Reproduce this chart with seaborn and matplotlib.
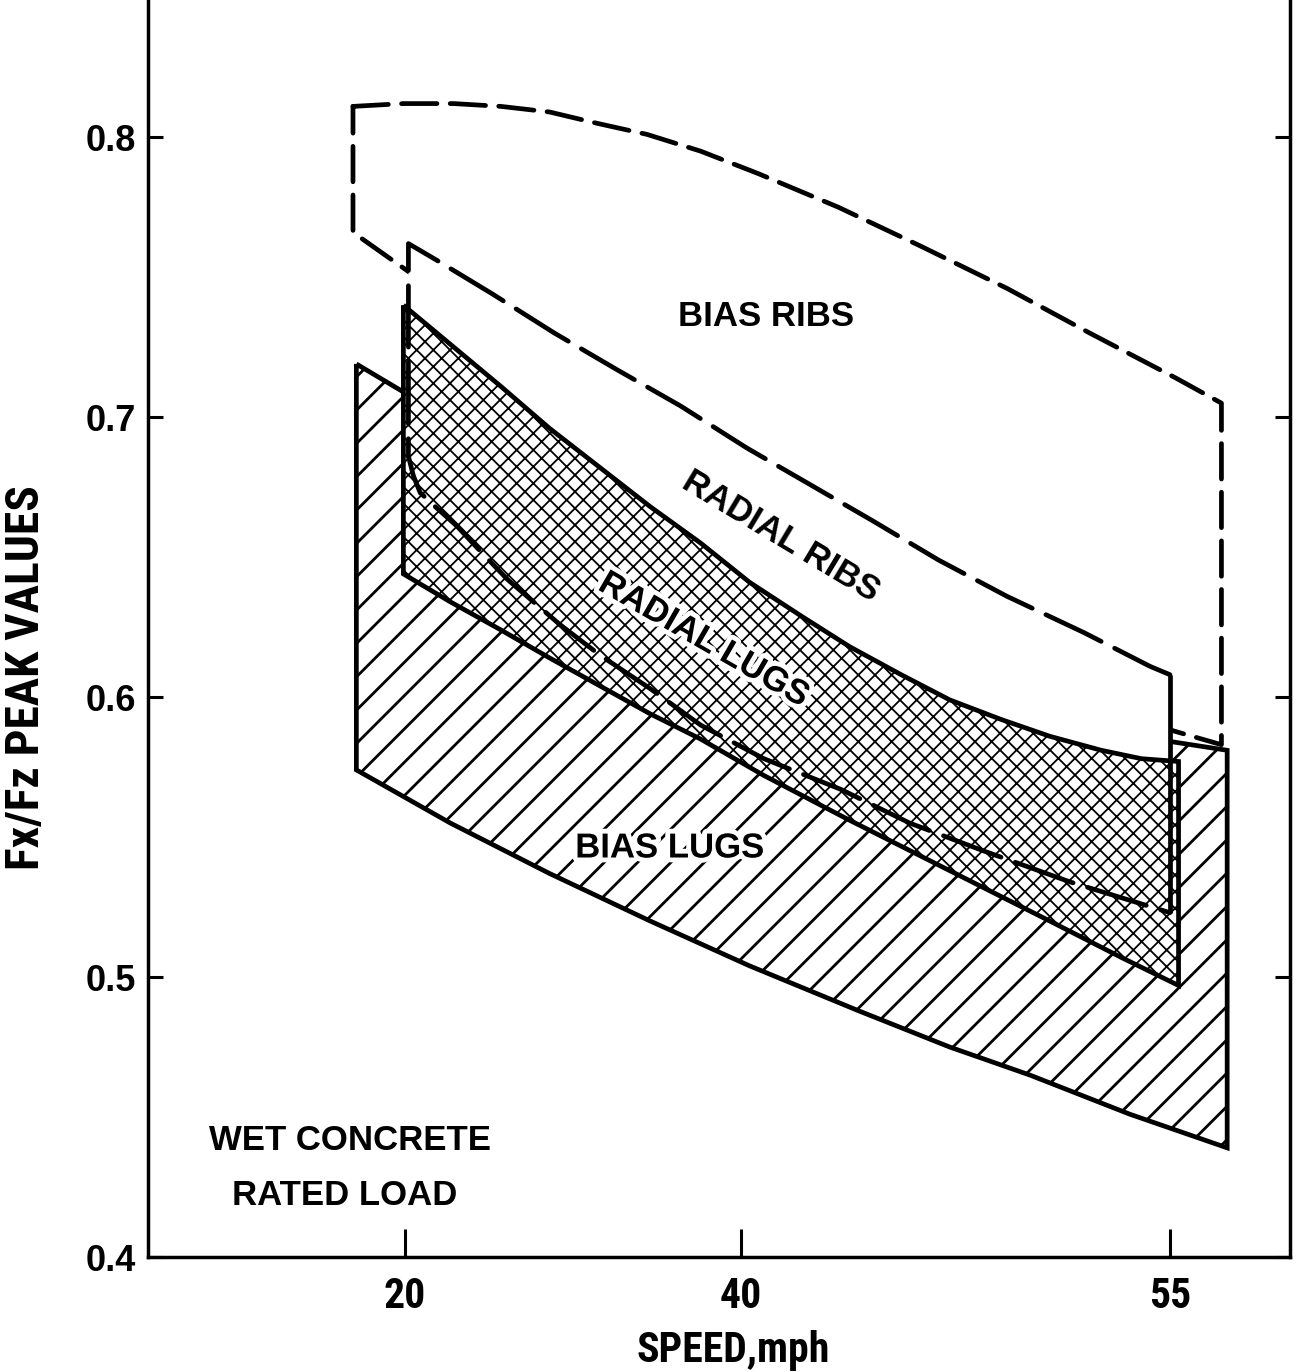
import os
import numpy as np
import matplotlib
matplotlib.use("Agg")
import matplotlib.pyplot as plt
import matplotlib.patheffects as pe
from matplotlib import font_manager as fm
import seaborn as sns

# ---------------------------------------------------------------
# Peak Fx/Fz envelopes versus speed (mph), wet concrete, rated load
# ---------------------------------------------------------------

# Bias ribs envelope (dashed outline)
bias_ribs_top_speed = [16.9, 19.9, 22.9, 25.7, 28.6, 31.4, 34.4, 37.6, 40.6,
                       43.4, 46.3, 49.3, 52.2, 55.2, 56.8]
bias_ribs_top = [0.811, 0.812, 0.812, 0.811, 0.809, 0.805, 0.801, 0.795, 0.787,
                 0.775, 0.761, 0.746, 0.730, 0.714, 0.705]
bias_ribs_bot_speed = [16.9, 20.2, 55.1, 56.8]
bias_ribs_bot = [0.766, 0.752, 0.588, 0.583]

# Radial ribs envelope (long dashes, solid right edge)
radial_ribs_top_speed = [20.2, 21.9, 25.2, 28.9, 32.6, 36.4, 40.2, 42.4, 44.6,
                         46.9, 49.3, 52.0, 54.3, 55.0]
radial_ribs_top = [0.762, 0.756, 0.744, 0.730, 0.717, 0.704, 0.689, 0.676, 0.663,
                   0.649, 0.636, 0.623, 0.611, 0.608]
radial_ribs_bot_speed = [20.2, 20.5, 20.9, 21.8, 23.1, 24.5, 26.1, 29.2, 31.6,
                         34.6, 37.6, 40.8, 43.5, 45.9, 48.5, 51.5, 55.0]
radial_ribs_bot = [0.686, 0.679, 0.673, 0.668, 0.661, 0.652, 0.642, 0.626, 0.615,
                   0.603, 0.590, 0.578, 0.567, 0.555, 0.545, 0.534, 0.523]

# Radial lugs envelope (cross-hatched)
radial_lugs_top_speed = [19.9, 22.7, 25.7, 28.6, 31.6, 34.6, 37.6, 40.3, 42.1,
                         43.8, 45.6, 47.3, 49.1, 50.8, 52.6, 54.0, 55.3]
radial_lugs_top = [0.740, 0.726, 0.711, 0.696, 0.682, 0.668, 0.655, 0.641, 0.629,
                   0.618, 0.608, 0.599, 0.592, 0.586, 0.581, 0.578, 0.577]
radial_lugs_bot_speed = [19.9, 22.7, 25.7, 28.6, 31.6, 34.6, 37.6, 40.8, 43.8,
                         47.3, 50.8, 53.3, 55.3]
radial_lugs_bot = [0.644, 0.634, 0.624, 0.614, 0.604, 0.594, 0.585, 0.572, 0.556,
                   0.538, 0.520, 0.507, 0.497]

# Bias lugs envelope (single hatch)
bias_lugs_top_speed = [17.1, 19.9, 55.1, 57.0]
bias_lugs_top = [0.719, 0.709, 0.584, 0.581]
bias_lugs_bot_speed = [17.1, 22.7, 28.6, 34.6, 40.3, 44.1, 47.3, 50.1, 53.6, 57.0]
bias_lugs_bot = [0.574, 0.555, 0.537, 0.520, 0.504, 0.488, 0.475, 0.465, 0.451, 0.439]

# Axis ticks
speed_ticks = [20, 40, 55]
speed_tick_labels = ["20", "40", "55"]
ratio_ticks = [0.4, 0.5, 0.6, 0.7, 0.8]
ratio_tick_labels = ["0.4", "0.5", "0.6", "0.7", "0.8"]

# The speed axis of this chart is stretched above 40 mph
speed_knots = [0, 20, 40, 55, 70]
axis_pos = [-336, 0, 336, 765, 1194]


def fwd(s):
    return np.interp(s, speed_knots, axis_pos)


def inv(p):
    return np.interp(p, axis_pos, speed_knots)


def condensed_bold():
    """Find an installed condensed/narrow bold sans face, if any."""
    best, best_score = None, -1
    prefs = ["liberationsansnarrow", "robotocondensed", "dejavusanscondensed",
             "opensanscondensed", "notosans", "opensans", "lato", "inter"]
    for f in fm.fontManager.ttflist:
        base = os.path.basename(f.fname).lower().replace("-", "").replace("_", "")
        if not ("condensed" in base or "narrow" in base):
            continue
        if "italic" in base or "oblique" in base:
            continue
        if "semicondensed" in base or "extracondensed" in base:
            continue
        if "semibold" in base or "extrabold" in base or "black" in base:
            continue
        if "bold" not in base:
            continue
        score = 1
        for i, p in enumerate(prefs):
            if base.startswith(p):
                score = 100 - i
                break
        if score > best_score:
            best, best_score = f.fname, score
    if best is None:
        return fm.FontProperties(family="Liberation Sans", weight="bold")
    return fm.FontProperties(fname=best)


sns.set_theme(style="ticks")
plt.rcParams["font.family"] = ["Liberation Sans", "DejaVu Sans"]
plt.rcParams["hatch.linewidth"] = 2.0
narrow = condensed_bold()

fig = plt.figure(figsize=(13.16, 13.72), dpi=100)
ax = fig.add_axes([0.1125, 0.0838, 0.8678, 0.9162])
ax.set_xscale("function", functions=(fwd, inv))
ax.set_xlim(4.7, 59.2)
ax.set_ylim(0.4, 0.849)

LW = 3.4


def outline(xs, ys, z, dashes=None):
    kws = dict(color="black", linewidth=LW, zorder=z,
               solid_joinstyle="miter", solid_capstyle="butt")
    if dashes is not None:
        kws["linestyle"] = (0, dashes)
        kws["dash_capstyle"] = "round"
    sns.lineplot(x=list(xs), y=list(ys), sort=False, estimator=None,
                 ax=ax, legend=False, **kws)


def hatched(xs, ys, pattern, z, hatch_lw):
    polys = ax.fill(xs, ys, facecolor="white", edgecolor="black", hatch=pattern,
                    linewidth=0, zorder=z)
    for p in polys:
        if hasattr(p, "set_hatch_linewidth"):
            p.set_hatch_linewidth(hatch_lw)


# Bias ribs: dashed closed outline
br_x = bias_ribs_top_speed + bias_ribs_bot_speed[::-1] + [bias_ribs_top_speed[0]]
br_y = bias_ribs_top + bias_ribs_bot[::-1] + [bias_ribs_top[0]]
outline(br_x, br_y, 2, dashes=(7.5, 2.8))

# Bias lugs: single diagonal hatch
bl_x = bias_lugs_top_speed + bias_lugs_bot_speed[::-1]
bl_y = bias_lugs_top + bias_lugs_bot[::-1]
hatched(bl_x, bl_y, "/", 3, 2.0)
outline(bl_x + [bl_x[0]], bl_y + [bl_y[0]], 3.1)

# Radial ribs: white body that masks what lies behind it
rr_x = radial_ribs_top_speed + radial_ribs_bot_speed[::-1]
rr_y = radial_ribs_top + radial_ribs_bot[::-1]
ax.fill(rr_x, rr_y, facecolor="white", edgecolor="none", linewidth=0, zorder=4)

# Radial lugs: cross hatch
rl_x = radial_lugs_top_speed + radial_lugs_bot_speed[::-1]
rl_y = radial_lugs_top + radial_lugs_bot[::-1]
hatched(rl_x, rl_y, "xx", 5, 1.3)
outline(rl_x + [rl_x[0]], rl_y + [rl_y[0]], 5.1)

# Radial ribs outline on top: long dashes, solid right edge
rr_path_x = radial_ribs_top_speed[::-1] + radial_ribs_bot_speed
rr_path_y = radial_ribs_top[::-1] + radial_ribs_bot
outline(rr_path_x, rr_path_y, 6, dashes=(13.0, 3.2))
outline([radial_ribs_top_speed[-1], radial_ribs_bot_speed[-1]],
        [radial_ribs_top[-1], radial_ribs_bot[-1]], 6)

# Region labels
halo = [pe.withStroke(linewidth=7, foreground="white")]
txt = dict(fontsize=25, fontweight="bold", ha="center", va="center",
           color="black", zorder=8)
ax.text(40.87, 0.736, "BIAS RIBS", **txt)
ax.text(41.4, 0.6575, "RADIAL RIBS", rotation=-31, **txt)
ax.text(37.8, 0.6204, "RADIAL LUGS", rotation=-30, path_effects=halo, **txt)
ax.text(35.77, 0.5461, "BIAS LUGS", path_effects=halo, **txt)
ax.text(16.73, 0.4418, "WET CONCRETE", **txt)
ax.text(16.43, 0.4221, "RATED LOAD", **txt)

# Axes, ticks and labels
ax.set_xticks(speed_ticks)
ax.set_xticklabels(speed_tick_labels)
ax.set_yticks(ratio_ticks)
ax.set_yticklabels(ratio_tick_labels)
ax.minorticks_off()
ax.tick_params(axis="x", direction="in", length=20, width=2.2, pad=14,
               colors="black")
ax.tick_params(axis="y", direction="in", length=11, width=2.2, pad=9,
               labelsize=26, colors="black", right=True)
xt_font = narrow.copy()
xt_font.set_size(30)
for lbl in ax.get_xticklabels():
    lbl.set_fontproperties(xt_font)
    lbl.set_color("black")
for lbl in ax.get_yticklabels():
    lbl.set_fontweight("bold")

for side in ["left", "right", "bottom"]:
    ax.spines[side].set_linewidth(2.5)
    ax.spines[side].set_color("black")
ax.spines["top"].set_visible(False)

xl_font = narrow.copy()
xl_font.set_size(30)
yl_font = narrow.copy()
yl_font.set_size(32)
ax.set_xlabel("SPEED,mph", fontproperties=xl_font, color="black")
ax.set_ylabel("Fx/Fz PEAK VALUES", fontproperties=yl_font, color="black")
ax.xaxis.set_label_coords(0.512, -0.058)
ax.yaxis.set_label_coords(-0.088, 0.461)
ax.grid(False)
ax.set_facecolor("white")
fig.patch.set_facecolor("white")

# Size the axis titles to the lengths they span on the page
fig.canvas.draw()
rend = fig.canvas.get_renderer()
for label, target, horizontal, fp in [(ax.xaxis.label, 193, True, xl_font),
                                      (ax.yaxis.label, 385, False, yl_font)]:
    bb = label.get_window_extent(rend)
    span = bb.width if horizontal else bb.height
    if span > 0:
        fp.set_size(fp.get_size() * target / span)
        label.set_fontproperties(fp)

fig.savefig("out.png", dpi=100)
